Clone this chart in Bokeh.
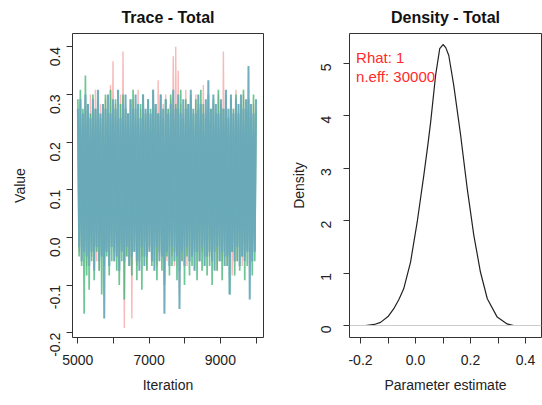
import math
import numpy as np
from bokeh.plotting import figure
from bokeh.layouts import row
from bokeh.models import FixedTicker, Span, Label, Range1d, Title
from bokeh.embed import file_html
from bokeh.resources import INLINE

FONT = "Liberation Sans"

# ---- data (thinned trace of three chains) ----
chain_red = [
    0.26, -0.03, 0.28, -0.05, 0.25, -0.02, 0.29, -0.06, 0.27, -0.01,
    0.30, -0.04, 0.26, -0.02, 0.31, -0.05, 0.25, -0.07, 0.28, -0.03,
    0.27, -0.06, 0.29, -0.02, 0.26, -0.04, 0.32, -0.01, 0.37, -0.05,
    0.28, -0.03, 0.25, -0.06, 0.30, -0.02, 0.39, -0.19, 0.27, -0.04,
    0.26, -0.05, 0.28, -0.17, 0.29, -0.02, 0.25, -0.06, 0.31, -0.03,
    0.27, -0.04, 0.30, -0.01, 0.26, -0.07, 0.28, -0.03, 0.25, -0.05,
    0.29, -0.02, 0.27, -0.06, 0.33, -0.04, 0.26, -0.03, 0.28, -0.08,
    0.30, -0.05, 0.27, -0.02, 0.29, -0.04, 0.38, -0.06, 0.40, -0.03,
    0.35, -0.12, 0.28, -0.05, 0.26, -0.02, 0.31, -0.06, 0.27, -0.03,
    0.29, -0.04, 0.25, -0.07, 0.30, -0.01, 0.28, -0.05, 0.26, -0.03,
    0.32, -0.06, 0.27, -0.02, 0.29, -0.04, 0.25, -0.05, 0.28, -0.03,
    0.26, -0.07, 0.30, -0.02, 0.27, -0.05, 0.39, -0.03, 0.28, -0.06,
    0.25, -0.04, 0.29, -0.08, 0.27, -0.02, 0.31, -0.05, 0.26, -0.03,
    0.28, -0.06, 0.30, -0.04, 0.27, -0.02, 0.29, -0.07, 0.26, -0.05,
    0.28, -0.03, 0.25,
]
chain_green = [
    0.29, -0.04, 0.31, -0.06, 0.27, -0.16, 0.34, -0.08, 0.28, -0.11,
    0.26, -0.05, 0.30, -0.09, 0.27, -0.03, 0.29, -0.07, 0.25, -0.12,
    0.28, -0.06, 0.30, -0.04, 0.26, -0.08, 0.31, -0.05, 0.27, -0.03,
    0.29, -0.07, 0.25, -0.10, 0.28, -0.05, 0.30, -0.13, 0.27, -0.04,
    0.26, -0.06, 0.29, -0.08, 0.31, -0.03, 0.27, -0.09, 0.25, -0.05,
    0.28, -0.11, 0.30, -0.04, 0.26, -0.07, 0.29, -0.02, 0.27, -0.06,
    0.31, -0.05, 0.28, -0.09, 0.26, -0.03, 0.30, -0.07, 0.25, -0.10,
    0.29, -0.04, 0.27, -0.08, 0.30, -0.06, 0.26, -0.03, 0.28, -0.09,
    0.27, -0.07, 0.31, -0.05, 0.25, -0.10, 0.29, -0.04, 0.28, -0.08,
    0.30, -0.06, 0.26, -0.03, 0.29, -0.09, 0.27, -0.05, 0.31, -0.07,
    0.28, -0.04, 0.25, -0.08, 0.30, -0.06, 0.27, -0.10, 0.29, -0.03,
    0.26, -0.07, 0.31, -0.05, 0.28, -0.09, 0.27, -0.04, 0.30, -0.06,
    0.25, -0.12, 0.29, -0.03, 0.27, -0.08, 0.30, -0.05, 0.26, -0.07,
    0.28, -0.04, 0.31, -0.09, 0.27, -0.06, 0.29, -0.03, 0.25, -0.08,
    0.30, -0.05, 0.27,
]
chain_blue = [
    0.27, -0.02, 0.29, -0.05, 0.26, -0.03, 0.30, -0.04, 0.28, -0.06,
    0.25, -0.03, 0.29, -0.07, 0.27, -0.02, 0.31, -0.05, 0.26, -0.04,
    0.28, -0.17, 0.27, -0.03, 0.30, -0.06, 0.26, -0.02, 0.29, -0.05,
    0.27, -0.04, 0.31, -0.07, 0.25, -0.03, 0.28, -0.05, 0.30, -0.02,
    0.26, -0.06, 0.29, -0.04, 0.27, -0.03, 0.30, -0.05, 0.28, -0.07,
    0.25, -0.02, 0.30, -0.06, 0.27, -0.04, 0.29, -0.03, 0.26, -0.05,
    0.31, -0.07, 0.28, -0.02, 0.26, -0.05, 0.30, -0.04, 0.27, -0.16,
    0.29, -0.03, 0.26, -0.06, 0.28, -0.02, 0.31, -0.05, 0.27, -0.04,
    0.30, -0.15, 0.26, -0.03, 0.29, -0.06, 0.27, -0.02, 0.28, -0.05,
    0.31, -0.04, 0.27, -0.07, 0.26, -0.03, 0.30, -0.05, 0.28, -0.02,
    0.26, -0.06, 0.29, -0.04, 0.33, -0.03, 0.27, -0.05, 0.30, -0.07,
    0.28, -0.02, 0.26, -0.05, 0.29, -0.03, 0.27, -0.06, 0.31, -0.04,
    0.27, -0.12, 0.30, -0.03, 0.26, -0.05, 0.29, -0.02, 0.28, -0.06,
    0.30, -0.04, 0.27, -0.05, 0.29, -0.03, 0.36, -0.13, 0.28, -0.05,
    0.26, -0.03, 0.29,
]
iter_start, iter_end = 5001, 10000

density_x = [-0.182, -0.150, -0.127, -0.100, -0.079, -0.060, -0.043, -0.018,
             0.006, 0.030, 0.045, 0.055, 0.073, 0.088, 0.100, 0.110, 0.121,
             0.139, 0.164, 0.188, 0.212, 0.236, 0.261, 0.297, 0.333, 0.357]
density_y = [0.00, 0.02, 0.06, 0.17, 0.32, 0.50, 0.70, 1.21,
             1.97, 2.86, 3.45, 3.88, 4.77, 5.28, 5.36, 5.30, 5.15,
             4.58, 3.63, 2.61, 1.72, 1.02, 0.51, 0.16, 0.03, 0.00]

trace_x_ticks = [5000, 6000, 7000, 8000, 9000, 10000]
trace_x_labels = ["5000", "", "7000", "", "9000", ""]
trace_y_ticks = [-0.2, -0.1, 0.0, 0.1, 0.2, 0.3, 0.4]
trace_y_labels = ["-0.2", "-0.1", "0.0", "0.1", "0.2", "0.3", "0.4"]
dens_x_ticks = [-0.2, -0.1, 0.0, 0.1, 0.2, 0.3, 0.4]
dens_x_labels = ["-0.2", "", "0.0", "", "0.2", "", "0.4"]
dens_y_ticks = [0, 1, 2, 3, 4, 5]
dens_y_labels = ["0", "1", "2", "3", "4", "5"]

titles = ["Trace - Total", "Density - Total"]
annot_lines = ["Rhat: 1", "n.eff: 30000"]

AX = "#333333"
TXT = "#222222"


def style(p, xt, xl, yt, yl, y_lab_standoff, y_axis_standoff, title):
    p.xgrid.visible = False
    p.ygrid.visible = False
    p.outline_line_color = AX
    p.outline_line_width = 1
    p.background_fill_color = "white"
    p.border_fill_color = "white"
    # spacer title next to the frame pushes the real title upwards
    p.add_layout(Title(text=" ", text_font_size="6px", standoff=0), "above")
    p.add_layout(Title(text=title, align="center", text_font=FONT,
                       text_font_size="16px", text_font_style="bold",
                       text_color="#111111", standoff=0), "above")
    xa, ya = p.xaxis[0], p.yaxis[0]
    xa.ticker = FixedTicker(ticks=xt)
    xa.major_label_overrides = {t: l for t, l in zip(xt, xl)}
    ya.ticker = FixedTicker(ticks=yt)
    ya.major_label_overrides = {t: l for t, l in zip(yt, yl)}
    for ax in (xa, ya):
        ax.axis_line_color = None
        ax.major_tick_line_color = AX
        ax.major_tick_out = 6
        ax.major_tick_in = 0
        ax.minor_tick_line_color = None
        ax.major_label_text_font = FONT
        ax.major_label_text_font_size = "14px"
        ax.major_label_text_color = TXT
        ax.axis_label_text_font = FONT
        ax.axis_label_text_font_size = "14px"
        ax.axis_label_text_font_style = "normal"
        ax.axis_label_text_color = TXT
    xa.major_label_standoff = 11
    xa.axis_label_standoff = 9
    ya.major_label_orientation = math.pi / 2
    ya.major_label_standoff = y_lab_standoff
    ya.axis_label_standoff = y_axis_standoff


# ---- trace panel ----
p1 = figure(width=271, height=405, output_backend="svg", toolbar_location=None,
            x_range=Range1d(4850, 10210), y_range=Range1d(-0.21, 0.428),
            min_border_left=72, min_border_right=8,
            min_border_top=33, min_border_bottom=68,
            x_axis_label="Iteration", y_axis_label="Value")
style(p1, trace_x_ticks, trace_x_labels, trace_y_ticks, trace_y_labels, 11, 15, titles[0])

chains = [chain_red, chain_green, chain_blue]
colors = ["#f08080", "#3cb371", "#6aaabb"]
alphas = [0.55, 0.75, 0.95]
widths = [1.4, 1.7, 2.0]
for ch, c, a, w in zip(chains, colors, alphas, widths):
    its = np.linspace(iter_start, iter_end, len(ch))
    p1.line(its, ch, line_color=c, line_alpha=a, line_width=w)

# ---- density panel ----
p2 = figure(width=271, height=405, output_backend="svg", toolbar_location=None,
            x_range=Range1d(-0.24, 0.458), y_range=Range1d(-0.229, 5.57),
            min_border_left=78, min_border_right=1,
            min_border_top=33, min_border_bottom=68,
            x_axis_label="Parameter estimate", y_axis_label="Density")
style(p2, dens_x_ticks, dens_x_labels, dens_y_ticks, dens_y_labels, 17, 7, titles[1])

p2.add_layout(Span(location=0, dimension="width", line_color="#cccccc", line_width=1))
p2.line(density_x, density_y, line_color="#222222", line_width=1.2)

for i, t in enumerate(annot_lines):
    p2.add_layout(Label(x=-0.216, y=5.11 - i * 0.36, text=t, text_color="#ff2a2a",
                        text_font=FONT, text_font_size="15px",
                        text_baseline="middle", text_align="left"))

layout = row(p1, p2)
open("out.html", "w").write(file_html(layout, INLINE))
